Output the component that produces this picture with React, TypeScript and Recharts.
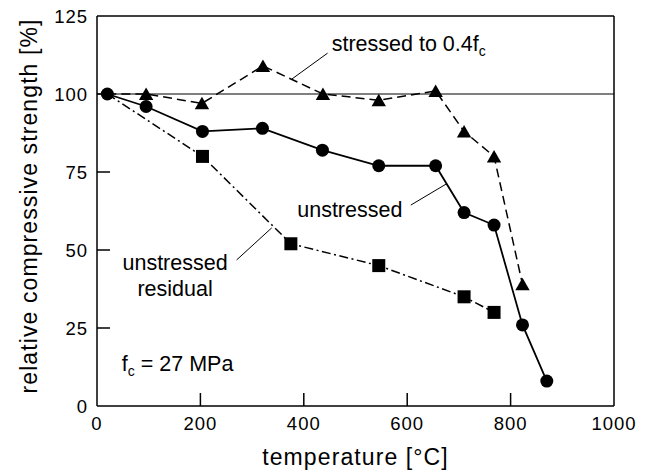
import React from 'react'
import { ComposedChart, Line, XAxis, YAxis, ReferenceLine, ReferenceDot } from 'recharts'

const FONT = '"Liberation Sans", Arial, Helvetica, sans-serif'

// unstressed (solid, circles)
const unstressedTemp = [20, 95, 204, 320, 436, 545, 655, 710, 768, 823, 870]
const unstressedStrength = [100, 96, 88, 89, 82, 77, 77, 62, 58, 26, 8]
// stressed to 0.4fc (dashed, triangles)
const stressedTemp = [20, 95, 203, 321, 437, 545, 655, 710, 768, 823]
const stressedStrength = [100, 100, 97, 109, 100, 98, 101, 88, 80, 39]
// unstressed residual (dash-dot, squares)
const residualTemp = [20, 204, 375, 545, 710, 768]
const residualStrength = [100, 80, 52, 45, 35, 30]

const xTicks = [0, 200, 400, 600, 800, 1000]
const yTicks = [0, 25, 50, 75, 100, 125]

const zip = (xs: number[], ys: number[]) => xs.map((x, i) => ({ t: x, v: ys[i] }))
const unstressed = zip(unstressedTemp, unstressedStrength)
const stressed = zip(stressedTemp, stressedStrength)
const residual = zip(residualTemp, residualStrength)

// leader lines for the labels, in data units
const leaders = [
  [{ x: 446, y: 113.1 }, { x: 377, y: 104.8 }],
  [{ x: 607, y: 64.4 }, { x: 676, y: 71.2 }],
  [{ x: 270, y: 46.8 }, { x: 338, y: 57.1 }],
]

// chart geometry
const W = 654
const H = 475
const M = { top: 16, right: 40, left: 0, bottom: 0 }
const Y_AXIS_W = 97
const X_AXIS_H = 69
const plotL = M.left + Y_AXIS_W
const plotR = W - M.right
const plotT = M.top
const plotB = H - M.bottom - X_AXIS_H
const xMax = xTicks[xTicks.length - 1]
const yMax = yTicks[yTicks.length - 1]
const px = (v: number) => plotL + (v / xMax) * (plotR - plotL)
const py = (v: number) => plotB - (v / yMax) * (plotB - plotT)
const TICK_LEN = 13

const CircleDot = (p: any) => (
  <circle key={`c-${p.index}`} cx={p.cx} cy={p.cy} r={6.5} fill="#000" />
)

const TriangleDot = (p: any) => {
  if (p.index === 0) return <g key={`t-${p.index}`} />
  const { cx, cy } = p
  return (
    <polygon
      key={`t-${p.index}`}
      points={`${cx},${cy - 6.5} ${cx + 7.2},${cy + 6} ${cx - 7.2},${cy + 6}`}
      fill="#000"
    />
  )
}

const SquareDot = (p: any) => {
  if (p.index === 0) return <g key={`s-${p.index}`} />
  return <rect key={`s-${p.index}`} x={p.cx - 6.5} y={p.cy - 6.5} width={13} height={13} fill="#000" />
}

const XTick = (p: any) => (
  <text x={p.x} y={p.y + 24} textAnchor="middle" fontSize={18.5} letterSpacing={1} fill="#000" fontFamily={FONT}>
    {p.payload.value}
  </text>
)

const YTick = (p: any) => (
  <text x={p.x - 9} y={p.y + 6.5} textAnchor="end" fontSize={18.5} letterSpacing={1} fill="#000" fontFamily={FONT}>
    {p.payload.value}
  </text>
)

const XTitle = (p: any) => {
  const vb = p.viewBox
  return (
    <text x={vb.x + vb.width / 2} y={vb.y + 59} textAnchor="middle" fontSize={23} letterSpacing={1.1} fill="#000" fontFamily={FONT}>
      temperature [°C]
    </text>
  )
}

const YTitle = (p: any) => {
  const vb = p.viewBox
  const cx = vb.x + 37
  const cy = vb.y + vb.height / 2 - 5
  return (
    <text x={cx} y={cy} transform={`rotate(-90, ${cx}, ${cy})`} textAnchor="middle" fontSize={23} letterSpacing={1.1} fill="#000" fontFamily={FONT}>
      relative compressive strength [%]
    </text>
  )
}

const sub = (main: string, s: string, rest = '') => (p: any) => (
  <text x={p.cx} y={p.cy} fontSize={21.5} fill="#000" fontFamily={FONT}>
    {main}
    <tspan fontSize={14} dy={5}>{s}</tspan>
    {rest && <tspan dy={-5}>{rest}</tspan>}
  </text>
)

const centered = (lines: string[]) => (p: any) => (
  <text x={p.cx} y={p.cy} fontSize={21.5} fill="#000" fontFamily={FONT} textAnchor="middle">
    {lines.map((l, i) => (
      <tspan key={l} x={p.cx} dy={i === 0 ? 0 : 26.5}>{l}</tspan>
    ))}
  </text>
)

// inward tick marks on the bottom and left axes
function InwardTicks() {
  return (
    <svg width={W} height={H} style={{ position: 'absolute', left: 0, top: 0, pointerEvents: 'none' }}>
      {xTicks.slice(1, -1).map((v) => (
        <line key={`x${v}`} x1={px(v)} y1={plotB} x2={px(v)} y2={plotB - TICK_LEN} stroke="#000" strokeWidth={1.5} />
      ))}
      {yTicks.slice(1, -1).map((v) => (
        <line key={`y${v}`} x1={plotL} y1={py(v)} x2={plotL + TICK_LEN} y2={py(v)} stroke="#000" strokeWidth={1.5} />
      ))}
    </svg>
  )
}

export default function App() {
  return (
    <div style={{ position: 'absolute', left: 0, top: 0, width: W, height: H, background: '#fff', fontFamily: FONT }}>
      <ComposedChart width={W} height={H} margin={M}>
        <XAxis
          type="number"
          dataKey="t"
          domain={[0, xMax]}
          ticks={xTicks}
          height={X_AXIS_H}
          tickSize={0}
          tickMargin={0}
          tickLine={false}
          axisLine={{ stroke: '#000', strokeWidth: 1.5 }}
          tick={<XTick />}
          label={{ content: <XTitle /> }}
          allowDataOverflow
        />
        <YAxis
          type="number"
          domain={[0, yMax]}
          ticks={yTicks}
          width={Y_AXIS_W}
          tickSize={0}
          tickMargin={0}
          tickLine={false}
          axisLine={{ stroke: '#000', strokeWidth: 1.5 }}
          tick={<YTick />}
          label={{ content: <YTitle /> }}
          allowDataOverflow
        />
        <ReferenceLine y={125} stroke="#000" strokeWidth={1.5} />
        <ReferenceLine x={1000} stroke="#000" strokeWidth={1.5} />
        <ReferenceLine y={100} stroke="#000" strokeWidth={1} />
        {leaders.map((seg, i) => (
          <ReferenceLine key={`ld-${i}`} segment={seg} stroke="#000" strokeWidth={1} />
        ))}
        <Line
          data={residual}
          dataKey="v"
          type="linear"
          stroke="#000"
          strokeWidth={1.5}
          strokeDasharray="9 3.5 2 3.5"
          dot={SquareDot}
          activeDot={false}
          isAnimationActive={false}
        />
        <Line
          data={stressed}
          dataKey="v"
          type="linear"
          stroke="#000"
          strokeWidth={1.5}
          strokeDasharray="9 5"
          dot={TriangleDot}
          activeDot={false}
          isAnimationActive={false}
        />
        <Line
          data={unstressed}
          dataKey="v"
          type="linear"
          stroke="#000"
          strokeWidth={1.8}
          dot={CircleDot}
          activeDot={false}
          isAnimationActive={false}
        />
        <ReferenceDot x={454} y={113.9} r={0} shape={sub('stressed to 0.4f', 'c')} />
        <ReferenceDot x={489} y={60.6} r={0} shape={centered(['unstressed'])} />
        <ReferenceDot x={151} y={43.6} r={0} shape={centered(['unstressed', 'residual'])} />
        <ReferenceDot x={48} y={11.3} r={0} shape={sub('f', 'c', ' = 27 MPa')} />
      </ComposedChart>
      <InwardTicks />
    </div>
  )
}
